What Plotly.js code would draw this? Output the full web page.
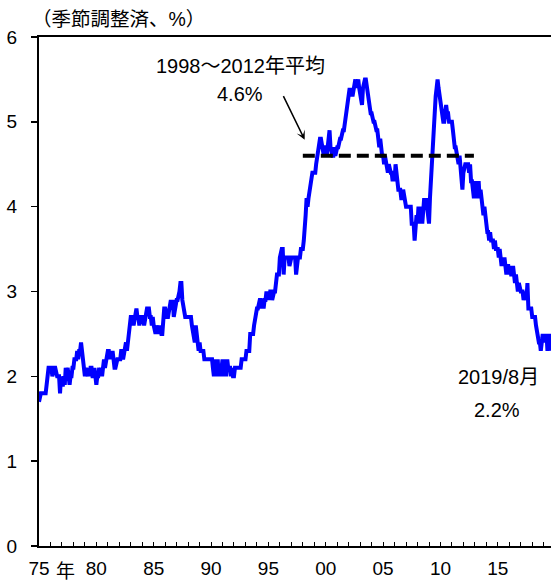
<!DOCTYPE html>
<html><head><meta charset="utf-8">
<script src="https://cdn.plot.ly/plotly-3.0.1.min.js"></script>
<style>html,body{margin:0;padding:0;background:#fff}#chart{width:551px;height:583px}</style>
</head><body><div id="chart"></div>
<script>
// Monthly unemployment rate (seasonally adjusted, %), Jan 1975 - Aug 2019
const startYear = 1975;
const u1975 = [1.7,1.8,1.8,1.8,1.8,1.8,1.8,1.8,1.9,2.1,2.1,2.1,
               2.1,2.1,2.0,2.1,2.1,2.1,2.0,2.0,2.0,2.0,1.8,2.0,
               1.9,1.9,2.0,1.9,2.1,2.0,2.1,2.0,1.9,2.0,2.0,2.1,
               2.1,2.2,2.2,2.2,2.3,2.2,2.3,2.3,2.4,2.3,2.2,2.1,
               2.0,2.1,2.0,2.0,2.1,2.0,2.1,2.1,2.0,2.0,2.1,2.0];
const u1980 = [1.9,2.0,2.0,2.1,2.0,2.1,2.0,2.1,2.2,2.1,2.2,2.2,
               2.3,2.3,2.2,2.3,2.2,2.3,2.2,2.1,2.1,2.2,2.2,2.2,
               2.2,2.2,2.3,2.3,2.2,2.3,2.3,2.4,2.3,2.4,2.5,2.5,
               2.7,2.7,2.7,2.6,2.7,2.7,2.8,2.7,2.7,2.6,2.7,2.7,
               2.7,2.7,2.6,2.7,2.7,2.8,2.8,2.8,2.7,2.7,2.6,2.7];
const u1985 = [2.6,2.5,2.5,2.6,2.5,2.5,2.6,2.5,2.5,2.5,2.7,2.8,
               2.8,2.7,2.7,2.7,2.8,2.8,2.9,2.8,2.9,2.7,2.8,2.9,
               2.9,2.9,3.0,3.0,3.1,3.1,2.9,2.8,2.7,2.7,2.7,2.7,
               2.7,2.7,2.7,2.7,2.6,2.5,2.4,2.4,2.6,2.4,2.4,2.3,
               2.4,2.3,2.3,2.3,2.3,2.2,2.2,2.2,2.2,2.2,2.2,2.2];
const u1990 = [2.2,2.2,2.1,2.0,2.1,2.2,2.0,2.2,2.0,2.1,2.0,2.2,
               2.2,2.0,2.1,2.2,2.0,2.2,2.1,2.1,2.1,2.0,2.1,2.0,
               2.0,2.1,2.1,2.1,2.1,2.1,2.1,2.1,2.2,2.2,2.2,2.2,
               2.2,2.3,2.3,2.3,2.3,2.5,2.5,2.5,2.5,2.6,2.7,2.8,
               2.8,2.8,2.9,2.9,2.9,2.8,2.9,2.8,2.9,2.9,3.0,2.9];
const u1995 = [3.0,2.9,3.0,3.0,2.9,3.0,3.0,3.0,3.2,3.2,3.2,3.2,
               3.4,3.5,3.5,3.5,3.2,3.4,3.4,3.4,3.4,3.4,3.3,3.4,
               3.4,3.4,3.4,3.4,3.4,3.2,3.4,3.4,3.4,3.4,3.5,3.5,
               3.5,3.6,3.7,3.9,4.1,4.0,4.1,4.2,4.3,4.3,4.4,4.4,
               4.4,4.4,4.5,4.6,4.6,4.7,4.8,4.8,4.7,4.7,4.6,4.7];
const u2000 = [4.7,4.6,4.7,4.8,4.9,4.7,4.6,4.6,4.6,4.7,4.6,4.7,
               4.7,4.7,4.8,4.8,4.8,4.9,4.9,4.9,5.0,5.1,5.2,5.3,
               5.3,5.4,5.3,5.4,5.3,5.4,5.4,5.5,5.4,5.5,5.5,5.4,
               5.3,5.2,5.2,5.4,5.5,5.5,5.5,5.4,5.3,5.2,5.1,5.1,
               5.1,5.0,5.0,5.0,4.9,4.9,4.9,4.8,4.7,4.8,4.6,4.6];
const u2005 = [4.6,4.5,4.6,4.5,4.5,4.4,4.5,4.4,4.4,4.4,4.3,4.4,
               4.3,4.5,4.4,4.3,4.2,4.2,4.2,4.1,4.1,4.2,4.1,4.0,
               4.0,4.0,4.0,4.0,4.0,4.0,3.8,3.8,3.8,3.6,3.7,3.9,
               3.8,4.0,3.8,3.9,4.0,3.8,4.0,4.1,4.0,4.1,4.0,3.8,
               3.8,4.1,4.3,4.4,4.7,5.0,5.1,5.3,5.4,5.5,5.4,5.3];
const u2010 = [5.2,5.1,5.0,5.0,5.0,5.1,5.2,5.1,5.1,5.0,5.0,5.0,
               5.0,4.9,4.8,4.7,4.7,4.6,4.6,4.5,4.6,4.5,4.4,4.2,
               4.4,4.5,4.5,4.5,4.5,4.5,4.4,4.5,4.3,4.3,4.2,4.1,
               4.2,4.3,4.2,4.1,4.3,4.1,4.2,4.1,4.0,3.9,4.0,3.8,
               3.8,3.7,3.7,3.6,3.7,3.6,3.6,3.6,3.5,3.6,3.5,3.5];
const u2015 = [3.5,3.4,3.5,3.4,3.3,3.4,3.3,3.4,3.3,3.2,3.3,3.3,
               3.2,3.3,3.2,3.2,3.3,3.2,3.1,3.2,3.1,3.0,3.1,3.0,
               3.0,3.0,3.0,2.9,3.0,3.0,2.9,3.1,2.8,2.8,2.8,2.8,
               2.7,2.7,2.7,2.7,2.6,2.5,2.4,2.4,2.4,2.3,2.4,2.5,
               2.4,2.5,2.4,2.5,2.3,2.4,2.5,2.3];

const avgPeriod = ['1998-01-01', '2012-12-01'];
const avgValue = 4.6;

const tickYears = [1975,1976,1977,1978,1979,1980,1981,1982,1983,1984,1985,1986,1987,1988,1989,
  1990,1991,1992,1993,1994,1995,1996,1997,1998,1999,2000,2001,2002,2003,2004,2005,2006,2007,2008,
  2009,2010,2011,2012,2013,2014,2015,2016,2017,2018,2019];
const labelYears = {1975:'75',1980:'80',1985:'85',1990:'90',1995:'95',2000:'00',2005:'05',2010:'10',2015:'15'};

const rate = [].concat(u1975,u1980,u1985,u1990,u1995,u2000,u2005,u2010,u2015);
const dates = rate.map((v,i)=>{
  const y = startYear + Math.floor(i/12);
  const m = (i%12)+1;
  return y + '-' + (m<10?'0':'') + m + '-01';
});

const FONT = 'Liberation Sans, Noto Sans CJK JP, sans-serif';
const traces = [
  {x: dates, y: rate, type:'scatter', mode:'lines',
   line:{color:'#0000ff', width:4}, hoverinfo:'skip', showlegend:false},
  {x: avgPeriod, y:[avgValue, avgValue], type:'scatter', mode:'lines',
   line:{color:'#000000', width:4, dash:'12px,6px'}, hoverinfo:'skip', showlegend:false}
];

const W = 512, H = 509, L = 39, T = 37;
const px = v => (v - L)/W;
const py = v => (T + H - v)/H;

const layout = {
  width:551, height:583,
  margin:{l:L, r:0, t:T, b:583-T-H, pad:0},
  paper_bgcolor:'#ffffff', plot_bgcolor:'#ffffff',
  font:{family:FONT, size:19, color:'#000'},
  xaxis:{type:'date', range:['1975-01-01','2019-08-22'],
    tickmode:'array',
    tickvals: tickYears.map(y=>y+'-01-01'),
    ticktext: tickYears.map(y=>labelYears[y]||''),
    ticks:'inside', ticklen:4, tickwidth:1, tickcolor:'#000',
    showline:true, linecolor:'#000', linewidth:2, mirror:true,
    showgrid:false, zeroline:false, ticklabelstandoff:4,
    tickfont:{family:FONT, size:19, color:'#000'}},
  yaxis:{range:[0,6], tickvals:[0,1,2,3,4,5,6], ticks:'outside', ticklen:6, tickwidth:1.5,
    tickcolor:'#000', showline:true, linecolor:'#000', linewidth:2,
    showgrid:false, zeroline:false, ticklabelstandoff:10,
    tickfont:{family:FONT, size:19, color:'#000'}},
  annotations:[
    {text:'（季節調整済、%）', xref:'paper', yref:'paper', x:px(30), y:py(19),
     xanchor:'left', yanchor:'middle', showarrow:false, font:{family:FONT,size:19.5}},
    {text:'1998～2012年平均', xref:'paper', yref:'paper', x:px(240), y:py(66),
     xanchor:'center', yanchor:'middle', showarrow:false, font:{family:FONT,size:20}},
    {text:'4.6%', xref:'paper', yref:'paper', x:px(240), y:py(94),
     xanchor:'center', yanchor:'middle', showarrow:false, font:{family:FONT,size:20}},
    {text:'', x:'1998-03-01', y:4.79, xref:'x', yref:'y', showarrow:true,
     ax:-22, ay:-45, arrowhead:3, arrowsize:1, arrowwidth:1.5, arrowcolor:'#000'},
    {text:'2019/8月', xref:'paper', yref:'paper', x:px(498), y:py(377),
     xanchor:'center', yanchor:'middle', showarrow:false, font:{family:FONT,size:20}},
    {text:'2.2%', xref:'paper', yref:'paper', x:px(497), y:py(410),
     xanchor:'center', yanchor:'middle', showarrow:false, font:{family:FONT,size:20}},
    {text:'年', xref:'paper', yref:'paper', x:px(65), y:py(571),
     xanchor:'center', yanchor:'middle', showarrow:false, font:{family:FONT,size:19}}
  ]
};
Plotly.newPlot('chart', traces, layout, {staticPlot:true, displayModeBar:false});
</script></body></html>
